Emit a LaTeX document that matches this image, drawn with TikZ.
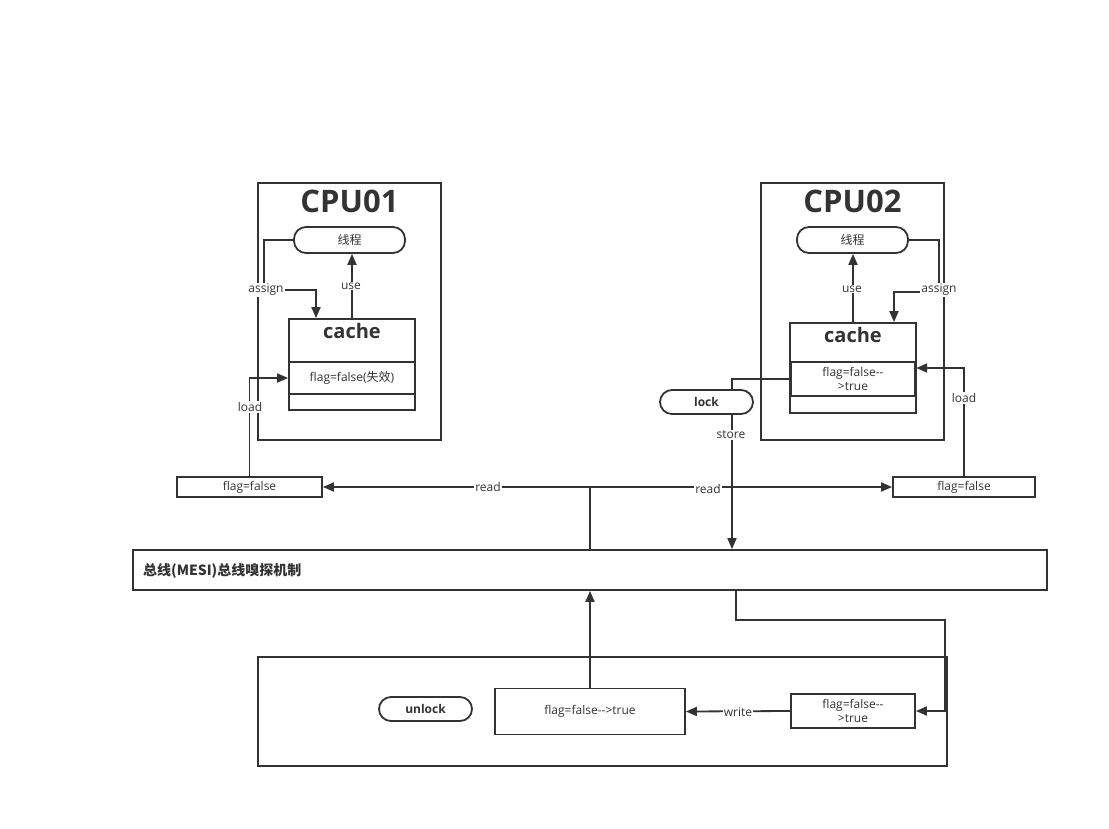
\documentclass[tikz,border=0pt]{standalone}
\usepackage{fontspec}
\setmainfont{Open Sans}
\newfontfamily\cjk{Noto Sans CJK SC}
\usetikzlibrary{arrows.meta}
\definecolor{ink}{HTML}{333333}
\tikzset{
  ln/.style={draw=ink, line width=1.8pt},
  arr/.style={ln, -{Triangle[length=11pt,width=9pt]}},
  boxn/.style={draw=ink, line width=1.8pt, fill=white, inner sep=0pt, text=ink},
  pill/.style={boxn, rounded corners=12pt},
  lbl/.style={fill=white, inner sep=1pt, text=ink, font=\fontsize{12}{14}\selectfont},
  txt/.style={text=ink, font=\fontsize{12}{14}\selectfont, align=center, inner sep=0pt},
  ttl/.style={text=ink, font=\fontsize{31}{34}\selectfont\bfseries},
  ctl/.style={text=ink, font=\fontsize{20}{22}\selectfont\bfseries}
}
\begin{document}
\begin{tikzpicture}[x=1pt,y=-1pt]
\fill[white] (0,0) rectangle (1109,828);
\useasboundingbox (0,0) rectangle (1109,828);

% CPU01
\node[boxn, minimum width=183pt, minimum height=257pt] (cpu1) at (349.5,311.5) {};
\node[ttl] (t1) at (349.5,201) {CPU01};
\node[pill, minimum width=111pt, minimum height=26pt, font=\fontsize{12}{14}\selectfont] (th1) at (349.5,240) {\cjk 线程};
\node[boxn, minimum width=126pt, minimum height=91pt] (cache1) at (352,364.5) {};
\node[ctl] (c1t) at (352,331) {cache};
\node[boxn, minimum width=126pt, minimum height=32pt, txt] (cache1r) at (352,378) {flag=false({\cjk 失效})};

% CPU02
\node[boxn, minimum width=183pt, minimum height=257pt] (cpu2) at (852.5,311.5) {};
\node[ttl] (t2) at (852.5,201) {CPU02};
\node[pill, minimum width=111pt, minimum height=26pt, font=\fontsize{12}{14}\selectfont] (th2) at (852.5,240) {\cjk 线程};
\node[boxn, minimum width=126pt, minimum height=90pt] (cache2) at (853,368) {};
\node[ctl] (c2t) at (853,335) {cache};
\node[boxn, line width=2.4pt, minimum width=124pt, minimum height=34pt, txt] (cache2r) at (853,379) {flag=false-{}-\\>true};

% shared memory copies
\node[boxn, minimum width=145pt, minimum height=20pt, txt] (ff1) at (249.5,487) {flag=false};
\node[boxn, minimum width=142pt, minimum height=20pt, txt] (ff2) at (964,487) {flag=false};

% bus
\node[boxn, minimum width=914pt, minimum height=40pt] (bus) at (590,570) {};
\node[anchor=west, text=ink, inner sep=0pt, font=\fontsize{14}{16}\selectfont\cjk\bfseries] (bust) at (143,571) {总线(MESI)总线嗅探机制};

% bottom
\node[boxn, minimum width=689pt, minimum height=109pt] (mem) at (602.5,711.5) {};
\node[pill, minimum width=93pt, minimum height=24pt, font=\fontsize{12}{14}\selectfont\bfseries] (unlock) at (425.5,709) {unlock};
\node[boxn, minimum width=190pt, minimum height=46pt, txt] (ff3) at (590,711.5) {flag=false-{}->true};
\node[boxn, minimum width=124pt, minimum height=34pt, txt] (ff4) at (853,711) {flag=false-{}-\\>true};

% connectors CPU01
\draw[arr] (th1.west) -- (264,240) -- (264,290) -| ([xshift=-36pt]cache1.north);
\node[lbl] (la1) at (266,290) {assign};
\draw[arr] (cache1.north) -- (cache1.north |- th1.south);
\node[lbl] (lu1) at (351,286) {use};
\draw[arr] (ff1.north) |- (cache1r.west);
\node[lbl] (ll1) at (250,407) {load};

% connectors CPU02
\draw[arr] (th2.east) -- (939,240) -- (939,292) -| ([xshift=41pt]cache2.north);
\node[lbl] (la2) at (939,290) {assign};
\draw[arr] (cache2.north) -- (cache2.north |- th2.south);
\node[lbl] (lu2) at (852,289) {use};
\draw[arr] (ff2.north) |- ([yshift=11pt]cache2r.east);
\node[lbl] (ll2) at (964,398) {load};

% read
\draw[arr] (bus.north) |- (ff1.east);
\node[lbl] (lr1) at (488,487) {read};
\draw[arr] (bus.north) |- (ff2.west);

% store
\draw[arr] (cache2r.west) -| ([xshift=142pt]bus.north);
\node[lbl] (lr2) at (708,489) {read};
\node[pill, minimum width=93pt, minimum height=24pt, font=\fontsize{12}{14}\selectfont\bfseries] (lock) at (706.5,402) {lock};
\node[lbl] (ls) at (731,435) {store};

% bottom connectors
\draw[arr] ([xshift=146pt]bus.south) |- (945,620) |- (ff4.east);
\draw[arr] (ff4.west) -- (ff3.east);
\node[lbl] (lw) at (738,712) {write};
\draw[arr] (ff3.north) -- (bus.south);
\end{tikzpicture}
\end{document}
